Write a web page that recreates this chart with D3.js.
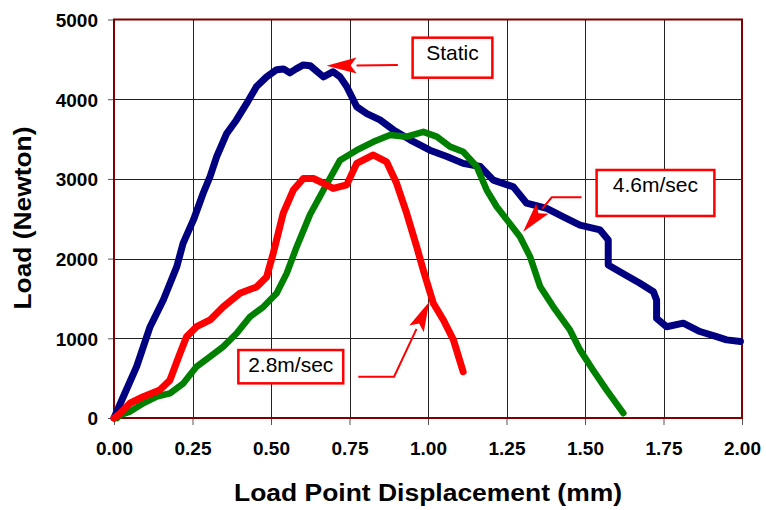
<!DOCTYPE html>
<html>
<head>
<meta charset="utf-8">
<script src="https://cdn.jsdelivr.net/npm/d3@7"></script>
<style>
  body { margin: 0; background: #fff; }
  text { font-family: "Liberation Sans", Arial, sans-serif; }
</style>
</head>
<body>
<div id="chart"></div>
<script>
// displacement (mm), load (N)
var staticData = [[0,0],[0.03,270],[0.072,645],[0.115,1145],[0.157,1480],[0.2,1900],[0.22,2190],[0.253,2485],
  [0.284,2820],[0.306,3030],[0.327,3280],[0.359,3570],[0.39,3740],[0.423,3950],[0.454,4160],[0.486,4280],
  [0.518,4370],[0.54,4380],[0.56,4330],[0.58,4380],[0.603,4430],[0.625,4420],[0.667,4280],[0.698,4345],
  [0.72,4280],[0.741,4160],[0.773,3905],[0.805,3820],[0.847,3740],[0.89,3615],[0.943,3490],[1.006,3360],
  [1.06,3280],[1.112,3195],[1.166,3155],[1.208,2985],[1.272,2900],[1.314,2695],[1.378,2630],[1.431,2525],
  [1.484,2420],[1.548,2360],[1.574,2235],[1.574,1920],[1.611,1835],[1.675,1690],[1.718,1585],[1.728,1480],
  [1.728,1250],[1.76,1145],[1.813,1190],[1.866,1085],[1.919,1020],[1.951,980],[1.995,960]];

var fastData = [[0.01,0],[0.02,40],[0.051,80],[0.093,185],[0.136,270],[0.178,310],[0.221,435],[0.263,645],
  [0.306,770],[0.348,895],[0.39,1060],[0.433,1270],[0.476,1395],[0.518,1565],[0.55,1815],[0.582,2150],
  [0.624,2550],[0.667,2860],[0.72,3235],[0.773,3360],[0.826,3465],[0.879,3550],[0.932,3530],[0.985,3590],
  [1.028,3530],[1.07,3405],[1.112,3340],[1.155,3155],[1.187,2860],[1.219,2650],[1.293,2275],[1.325,2025],
  [1.357,1650],[1.399,1395],[1.452,1105],[1.484,855],[1.526,600],[1.569,350],[1.622,60]];

var slowData = [[0,0],[0.02,60],[0.051,185],[0.093,267],[0.146,350],[0.178,475],[0.21,810],[0.231,1020],
  [0.263,1145],[0.306,1230],[0.348,1395],[0.401,1565],[0.454,1645],[0.486,1770],[0.507,2065],[0.539,2570],
  [0.571,2860],[0.603,3005],[0.635,3005],[0.667,2945],[0.698,2880],[0.741,2925],[0.773,3195],[0.826,3300],
  [0.868,3215],[0.9,2945],[0.932,2570],[0.964,2150],[0.985,1855],[1.017,1440],[1.049,1230],[1.081,980],
  [1.112,580]];

var xTicks = [0, 0.25, 0.5, 0.75, 1, 1.25, 1.5, 1.75, 2];
var yTicks = [0, 1000, 2000, 3000, 4000, 5000];

// callouts: box corners, text baseline, arrow path (last point is the tip), all in data units
var callouts = [
  { label: "Static", box: [0.951, 4772, 1.205, 4270], text: [1.078, 4492], arrow: [[0.904, 4430], [0.677, 4420]] },
  { label: "4.6m/sec", box: [1.537, 3112, 1.912, 2535], text: [1.724, 2839], arrow: [[1.489, 2769], [1.394, 2769], [1.303, 2338]] },
  { label: "2.8m/sec", box: [0.396, 853, 0.730, 435], text: [0.563, 581], arrow: [[0.778, 518], [0.892, 518], [1.004, 1459]] }
];

var w = 766, h = 510;
var margin = { left: 114, right: 24, top: 19.5, bottom: 92 };

var svg = d3.select("#chart").append("svg")
  .attr("width", w)
  .attr("height", h);

var x = d3.scaleLinear().domain([0, 2]).range([margin.left, w - margin.right]);
var y = d3.scaleLinear().domain([0, 5000]).range([h - margin.bottom, margin.top]);

// grid
var grid = svg.append("g").attr("stroke", "#222").attr("stroke-width", 1);
grid.selectAll(".vg").data(xTicks.slice(1, -1)).enter().append("line")
  .attr("x1", function(d) { return Math.round(x(d)) + 0.5; })
  .attr("x2", function(d) { return Math.round(x(d)) + 0.5; })
  .attr("y1", y(5000)).attr("y2", y(0));
grid.selectAll(".hg").data(yTicks.slice(1, -1)).enter().append("line")
  .attr("y1", function(d) { return Math.round(y(d)) + 0.5; })
  .attr("y2", function(d) { return Math.round(y(d)) + 0.5; })
  .attr("x1", x(0)).attr("x2", x(2));

// axes
var xAxis = d3.axisBottom(x).tickValues(xTicks).tickSize(7).tickPadding(17)
  .tickFormat(d3.format(".2f"));
var yAxis = d3.axisLeft(y).tickValues(yTicks).tickSize(6).tickPadding(10)
  .tickFormat(d3.format("d"));

var gx = svg.append("g").attr("transform", "translate(0," + y(0) + ")").call(xAxis);
var gy = svg.append("g").attr("transform", "translate(" + x(0) + ",0)").call(yAxis);
[gx, gy].forEach(function(g) {
  g.select(".domain").remove();
  g.selectAll(".tick line").attr("stroke", "#555");
  g.selectAll(".tick text")
    .attr("fill", "#000")
    .style("font-size", "19px")
    .style("font-weight", "bold");
});
gy.selectAll(".tick text").attr("dy", "0.36em");

// plot frame
svg.append("rect")
  .attr("x", x(0)).attr("y", y(5000))
  .attr("width", x(2) - x(0)).attr("height", y(0) - y(5000))
  .attr("fill", "none")
  .attr("stroke", "#800000")
  .attr("stroke-width", 2);

// curves
var line = d3.line()
  .x(function(d) { return x(d[0]); })
  .y(function(d) { return y(d[1]); });

var series = [
  { data: staticData, color: "#000080", width: 7 },
  { data: fastData, color: "#008000", width: 6.5 },
  { data: slowData, color: "#ff0000", width: 7 }
];

svg.append("g").selectAll("path").data(series).enter().append("path")
  .attr("d", function(d) { return line(d.data); })
  .attr("fill", "none")
  .attr("stroke", function(d) { return d.color; })
  .attr("stroke-width", function(d) { return d.width; })
  .attr("stroke-linejoin", "round")
  .attr("stroke-linecap", "round");

// callouts
var notes = svg.append("g");
callouts.forEach(function(c) {
  var pts = c.arrow.map(function(p) { return [x(p[0]), y(p[1])]; });
  var tip = pts[pts.length - 1], prev = pts[pts.length - 2];
  var dx = tip[0] - prev[0], dy = tip[1] - prev[1];
  var len = Math.sqrt(dx * dx + dy * dy);
  var ux = dx / len, uy = dy / len;
  var headLen = 30, headW = 8;
  var bx = tip[0] - ux * headLen, by = tip[1] - uy * headLen;
  var shaft = pts.slice(0, -1).concat([[bx, by]]);

  notes.append("polyline")
    .attr("points", shaft.map(function(p) { return p.join(","); }).join(" "))
    .attr("fill", "none")
    .attr("stroke", "#ff0000")
    .attr("stroke-width", 2);

  notes.append("polygon")
    .attr("points", [
      tip,
      [bx - uy * headW, by + ux * headW],
      [bx + ux * 6, by + uy * 6],
      [bx + uy * headW, by - ux * headW]
    ].map(function(p) { return p.join(","); }).join(" "))
    .attr("fill", "#ff0000");

  notes.append("rect")
    .attr("x", x(c.box[0])).attr("y", y(c.box[1]))
    .attr("width", x(c.box[2]) - x(c.box[0]))
    .attr("height", y(c.box[3]) - y(c.box[1]))
    .attr("fill", "#fff")
    .attr("stroke", "#ff0000")
    .attr("stroke-width", 2.5);

  notes.append("text")
    .attr("x", x(c.text[0])).attr("y", y(c.text[1]))
    .attr("text-anchor", "middle")
    .style("font-size", "21px")
    .text(c.label);
});

// axis titles
svg.append("text")
  .attr("x", 428).attr("y", 501)
  .attr("text-anchor", "middle")
  .attr("textLength", 388)
  .attr("lengthAdjust", "spacingAndGlyphs")
  .style("font-size", "23px")
  .style("font-weight", "bold")
  .text("Load Point Displacement (mm)");

svg.append("text")
  .attr("transform", "translate(31," + 218 + ") rotate(-90)")
  .attr("text-anchor", "middle")
  .attr("textLength", 183)
  .attr("lengthAdjust", "spacingAndGlyphs")
  .style("font-size", "23px")
  .style("font-weight", "bold")
  .text("Load (Newton)");
</script>
</body>
</html>
